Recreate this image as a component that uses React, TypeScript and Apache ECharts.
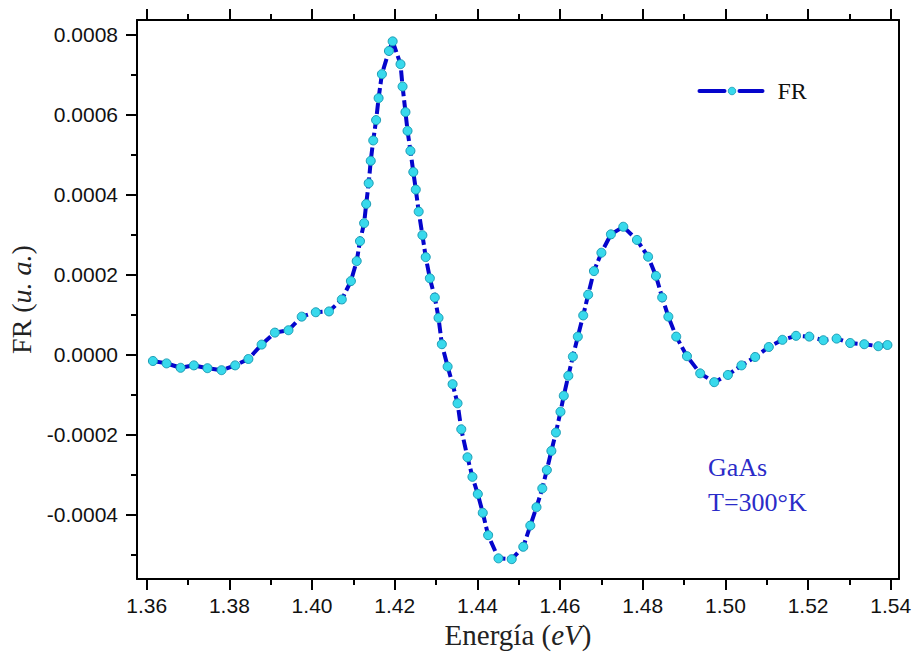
import React, { useEffect, useRef } from "react";
import * as echarts from "echarts";

// Energy (eV) of each plotted point
const energyValues: number[] = [
  1.3615, 1.3648, 1.3682, 1.3714, 1.3747, 1.3781, 1.3814, 1.3846, 1.3878, 1.391,
  1.3943, 1.3975, 1.4009, 1.4041, 1.4072, 1.4094, 1.4108, 1.4116, 1.4126, 1.4131,
  1.4137, 1.4142, 1.4148, 1.4155, 1.4161, 1.4169, 1.4186, 1.4195, 1.4214, 1.4219,
  1.4226, 1.4231, 1.4238, 1.4245, 1.4251, 1.4258, 1.4267, 1.4275, 1.4285, 1.4297,
  1.4306, 1.4314, 1.4328, 1.434, 1.4352, 1.4361, 1.4376, 1.4388, 1.4401, 1.4413,
  1.4426, 1.4451, 1.4483, 1.4511, 1.4528, 1.4543, 1.4557, 1.4568, 1.4579, 1.459,
  1.4601, 1.4609, 1.462, 1.4631, 1.4643, 1.4656, 1.4668, 1.4682, 1.47, 1.4723,
  1.4753, 1.4786, 1.4813, 1.4832, 1.4847, 1.4862, 1.4881, 1.4907, 1.4939, 1.4973,
  1.5006, 1.5039, 1.5072, 1.5105, 1.5138, 1.5171, 1.5203, 1.5237, 1.5269, 1.5302,
  1.5336, 1.537, 1.5392,
];

// FR (u. a.) values
const frValues: number[] = [
  -0.000016, -0.000022, -0.000033, -0.000027, -0.000034, -0.000039, -0.000027, -0.000011, 0.000025, 0.000055,
  0.000061, 0.000095, 0.000106, 0.000108, 0.000138, 0.000184, 0.000234, 0.000284, 0.000329, 0.000377,
  0.000429, 0.000485, 0.000536, 0.000587, 0.000642, 0.000702, 0.00076, 0.000784, 0.000727, 0.000671,
  0.000607, 0.00056, 0.00051, 0.000457, 0.000413, 0.000358, 0.000299, 0.000244, 0.000191, 0.000143,
  0.000092, 0.000026, -0.00003, -0.000074, -0.000122, -0.000187, -0.000257, -0.000306, -0.000349, -0.000396,
  -0.000452, -0.00051, -0.000512, -0.000481, -0.000428, -0.000382, -0.000335, -0.000289, -0.000241, -0.000195,
  -0.000143, -0.000103, -0.000053, -0.000005, 0.000045, 0.000098, 0.00015, 0.000209, 0.000255, 0.000301,
  0.00032, 0.000287, 0.000245, 0.000197, 0.000143, 0.000095, 0.000045, -0.000004, -0.000047, -0.000069,
  -0.000051, -0.000027, -0.000006, 0.000019, 0.000037, 0.000047, 0.000045, 0.000036, 0.00004, 0.000029,
  0.000026, 0.000021, 0.000024,
];

const xMajorTicks: number[] = [1.36, 1.38, 1.4, 1.42, 1.44, 1.46, 1.48, 1.5, 1.52, 1.54];
const xMinorTicks: number[] = [1.37, 1.39, 1.41, 1.43, 1.45, 1.47, 1.49, 1.51, 1.53];
const yMajorTicks: number[] = [-0.0004, -0.0002, 0, 0.0002, 0.0004, 0.0006, 0.0008];
const yMinorTicks: number[] = [-0.0005, -0.0003, -0.0001, 0.0001, 0.0003, 0.0005, 0.0007];

const X_MIN = 1.35765;
const X_MAX = 1.542;
const Y_MIN = -0.0005617;
const Y_MAX = 0.0008375;

const SERIES_NAME = "FR";
const annotationLines: string[] = ["GaAs", "T=300°K"];

const SANS = "'Liberation Sans', Arial, sans-serif";
const SERIF = "'Liberation Serif', 'Times New Roman', serif";

const LINE_COLOR = "#0505cc";
const DOT_COLOR = "#38d9ec";
const DOT_BORDER = "#1a9cb4";

export default function App() {
  const ref = useRef<HTMLDivElement>(null);

  useEffect(() => {
    if (!ref.current) return;
    const chart = echarts.init(ref.current, undefined, { renderer: "svg" });

    const data = energyValues.map((x, i) => [x, frValues[i]]);
    const lineAxis = { show: true, onZero: false, lineStyle: { color: "#000", width: 2 } };
    const noLine = { show: false, onZero: false };
    const tickStyle = { color: "#000", width: 2 };

    const option: any = {
      animation: false,
      backgroundColor: "#fff",
      grid: { left: 137, right: 14, top: 20, bottom: 81, containLabel: false, outerBoundsMode: "none" },
      xAxis: [
        {
          type: "value",
          position: "bottom",
          min: X_MIN,
          max: X_MAX,
          axisLine: lineAxis,
          axisTick: { show: true, customValues: xMajorTicks, length: 11, lineStyle: tickStyle },
          axisLabel: {
            customValues: xMajorTicks,
            formatter: (v: number) => v.toFixed(2),
            fontFamily: SANS,
            fontSize: 21,
            color: "#111",
            margin: 16,
          },
          splitLine: { show: false },
          name: "Energía ({i|eV})",
          nameLocation: "middle",
          nameGap: 40,
          nameTextStyle: {
            fontFamily: SERIF,
            fontSize: 29,
            color: "#222",
            rich: { i: { fontFamily: SERIF, fontSize: 29, fontStyle: "italic", color: "#222" } },
          },
        },
        {
          type: "value",
          position: "bottom",
          min: X_MIN,
          max: X_MAX,
          axisLine: noLine,
          axisTick: { show: true, customValues: xMinorTicks, length: 6, lineStyle: tickStyle },
          axisLabel: { show: false },
          splitLine: { show: false },
        },
        {
          type: "value",
          position: "top",
          min: X_MIN,
          max: X_MAX,
          axisLine: lineAxis,
          axisTick: { show: true, customValues: xMajorTicks, length: 11, lineStyle: tickStyle },
          axisLabel: { show: false },
          splitLine: { show: false },
        },
        {
          type: "value",
          position: "top",
          min: X_MIN,
          max: X_MAX,
          axisLine: noLine,
          axisTick: { show: true, customValues: xMinorTicks, length: 6, lineStyle: tickStyle },
          axisLabel: { show: false },
          splitLine: { show: false },
        },
      ],
      yAxis: [
        {
          type: "value",
          position: "left",
          min: Y_MIN,
          max: Y_MAX,
          axisLine: lineAxis,
          axisTick: { show: true, customValues: yMajorTicks, length: 11, lineStyle: tickStyle },
          axisLabel: {
            customValues: yMajorTicks,
            formatter: (v: number) => v.toFixed(4),
            fontFamily: SANS,
            fontSize: 21,
            color: "#111",
            margin: 19,
          },
          splitLine: { show: false },
          name: "FR ({i|u. a.})",
          nameLocation: "middle",
          nameRotate: 90,
          nameGap: 94,
          nameTextStyle: {
            fontFamily: SERIF,
            fontSize: 28,
            color: "#222",
            rich: { i: { fontFamily: SERIF, fontSize: 28, fontStyle: "italic", color: "#222" } },
          },
        },
        {
          type: "value",
          position: "left",
          min: Y_MIN,
          max: Y_MAX,
          axisLine: noLine,
          axisTick: { show: true, customValues: yMinorTicks, length: 6, lineStyle: tickStyle },
          axisLabel: { show: false },
          splitLine: { show: false },
        },
        {
          type: "value",
          position: "right",
          min: Y_MIN,
          max: Y_MAX,
          axisLine: lineAxis,
          axisTick: { show: false },
          axisLabel: { show: false },
          splitLine: { show: false },
        },
      ],
      series: [
        {
          name: SERIES_NAME,
          type: "line",
          xAxisIndex: 0,
          yAxisIndex: 0,
          data,
          symbol: "circle",
          symbolSize: 9,
          showSymbol: true,
          lineStyle: { color: LINE_COLOR, width: 4, type: [11, 4] },
          itemStyle: { color: DOT_COLOR, borderColor: DOT_BORDER, borderWidth: 1 },
          emphasis: { disabled: true },
        },
      ],
      graphic: [
        {
          type: "group",
          left: 697,
          top: 79,
          children: [
            { type: "line", shape: { x1: 0, y1: 8, x2: 25, y2: 8 }, style: { stroke: LINE_COLOR, lineWidth: 4, lineCap: "round" } },
            { type: "line", shape: { x1: 40, y1: 8, x2: 63, y2: 8 }, style: { stroke: LINE_COLOR, lineWidth: 4, lineCap: "round" } },
            { type: "circle", shape: { cx: 32.5, cy: 8, r: 3.8 }, style: { fill: DOT_COLOR, stroke: DOT_BORDER, lineWidth: 0.8 } },
            {
              type: "text",
              x: 78,
              y: 8,
              style: { text: SERIES_NAME, fontFamily: SERIF, fontSize: 24, fill: "#111", verticalAlign: "middle" },
            },
          ],
        },
        {
          type: "text",
          x: 708,
          y: 467,
          style: {
            text: annotationLines[0],
            fontFamily: SERIF,
            fontSize: 26,
            fill: "#2b2bc8",
            verticalAlign: "middle",
          },
        },
        {
          type: "text",
          x: 708,
          y: 502,
          style: {
            text: annotationLines[1],
            fontFamily: SERIF,
            fontSize: 26,
            fill: "#2b2bc8",
            verticalAlign: "middle",
          },
        },
      ],
    };

    chart.setOption(option);
    return () => chart.dispose();
  }, []);

  return (
    <div
      ref={ref}
      style={{ position: "fixed", left: 0, top: 0, width: 913, height: 660, background: "#fff" }}
    />
  );
}
